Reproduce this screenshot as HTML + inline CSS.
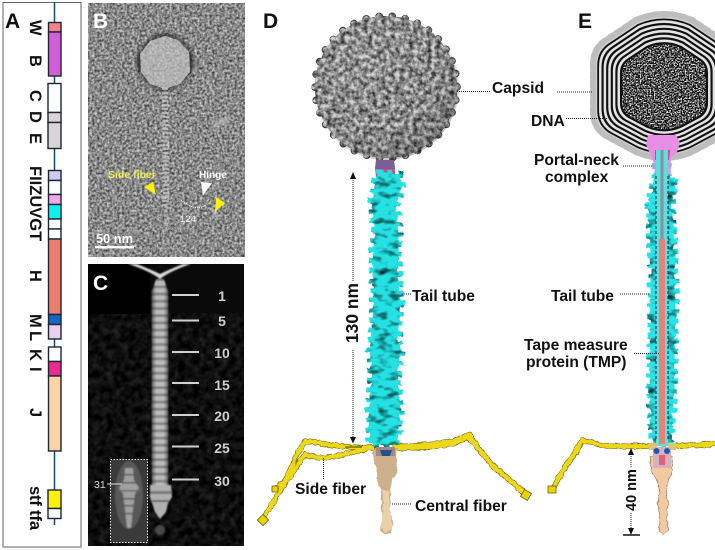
<!DOCTYPE html>
<html><head><meta charset="utf-8"><style>
html,body{margin:0;padding:0;background:#fff;width:715px;height:550px;overflow:hidden}
svg{display:block}
text{font-family:"Liberation Sans",Arial,sans-serif;font-weight:bold}
.l{font-size:15.6px;fill:#111}
.d{stroke:#222;stroke-width:1;stroke-dasharray:1 1;fill:none}
.c{font-size:14px;fill:#cfcfcf;text-anchor:middle}
</style></head><body>
<svg width="715" height="550" viewBox="0 0 715 550" xmlns="http://www.w3.org/2000/svg">
<defs>
<filter id="em" x="0" y="0" width="1" height="1" color-interpolation-filters="sRGB">
<feTurbulence type="fractalNoise" baseFrequency=".4" numOctaves="2" seed="4"/>
<feColorMatrix values=".95 0 0 0 .06 .95 0 0 0 .06 .95 0 0 0 .06 0 0 0 0 1"/>
</filter>
<filter id="cn" x="0" y="0" width="1" height="1" color-interpolation-filters="sRGB">
<feTurbulence type="fractalNoise" baseFrequency=".14" numOctaves="2" seed="9"/>
<feColorMatrix values=".25 0 0 0 -.07 .25 0 0 0 -.07 .25 0 0 0 -.07 0 0 0 0 1"/>
</filter>
<filter id="cap" x="-10%" y="-10%" width="120%" height="120%" color-interpolation-filters="sRGB">
<feTurbulence type="fractalNoise" baseFrequency=".22" numOctaves="3" seed="3" result="n"/>
<feDisplacementMap in="SourceGraphic" in2="n" scale="2.5" xChannelSelector="R" yChannelSelector="G" result="dis"/>
<feColorMatrix in="n" values="1.5 0 0 0 -.1 1.5 0 0 0 -.1 1.5 0 0 0 -.1 0 0 0 0 1" result="g"/>
<feBlend in="dis" in2="g" mode="multiply" result="m"/>
<feComposite in="m" in2="dis" operator="in"/>
</filter>
<filter id="mot" x="-25%" y="-5%" width="150%" height="110%" color-interpolation-filters="sRGB">
<feTurbulence type="fractalNoise" baseFrequency=".09 .16" numOctaves="2" seed="7" result="n"/>
<feDisplacementMap in="SourceGraphic" in2="n" scale="5" xChannelSelector="G" yChannelSelector="R" result="dis"/>
<feColorMatrix in="n" values="2 0 0 0 -.05 2 0 0 0 -.05 2 0 0 0 -.05 0 0 0 0 1" result="g"/>
<feBlend in="dis" in2="g" mode="multiply" result="m"/>
<feComposite in="m" in2="dis" operator="in"/>
</filter>
<filter id="rough" x="-20%" y="-20%" width="140%" height="140%" color-interpolation-filters="sRGB">
<feTurbulence type="fractalNoise" baseFrequency=".18" numOctaves="2" seed="5" result="n"/>
<feDisplacementMap in="SourceGraphic" in2="n" scale="3.5" xChannelSelector="R" yChannelSelector="G"/>
</filter>
<filter id="speck" x="0" y="0" width="1" height="1" color-interpolation-filters="sRGB">
<feTurbulence type="fractalNoise" baseFrequency=".42" numOctaves="2" seed="11" result="n"/>
<feColorMatrix in="n" values="3.4 0 0 0 -1.4 3.4 0 0 0 -1.4 3.4 0 0 0 -1.4 0 0 0 0 1" result="g"/>
<feComposite in="g" in2="SourceAlpha" operator="in"/>
</filter>
<filter id="soft"><feGaussianBlur stdDeviation=".7"/></filter>
<filter id="soft2"><feGaussianBlur stdDeviation="1.6"/></filter>
<radialGradient id="shade" cx=".36" cy=".32" r=".75">
<stop offset="0" stop-color="#fff" stop-opacity=".1"/><stop offset=".6" stop-color="#888" stop-opacity="0"/><stop offset="1" stop-color="#000" stop-opacity=".3"/>
</radialGradient>
<pattern id="stripe" width="18" height="7.2" patternUnits="userSpaceOnUse" y="281">
<rect width="18" height="7.2" fill="#bcbcbc"/><rect y="4.6" width="18" height="2.6" fill="#808080"/>
</pattern>
<linearGradient id="tube"><stop offset="0" stop-color="#000" stop-opacity=".75"/><stop offset=".3" stop-color="#000" stop-opacity="0"/><stop offset=".7" stop-color="#000" stop-opacity="0"/><stop offset="1" stop-color="#000" stop-opacity=".75"/></linearGradient>
<path id="hex" d="M-28,-68 Q0,-80 28,-68 L58,-48 Q71,-40 71,-24 L71,24 Q71,40 58,48 L28,64 Q0,76 -28,64 L-58,48 Q-71,40 -71,24 L-71,-24 Q-71,-40 -58,-48Z"/>
<clipPath id="cpB"><rect x="88" y="3" width="157" height="254"/></clipPath>
</defs>

<rect width="715" height="550" fill="#fff"/>

<!-- Panel A -->
<rect x="3" y="2.5" width="78" height="544.5" fill="#fff" stroke="#666" stroke-width="1"/>
<line x1="54.5" y1="2" x2="54.5" y2="525" stroke="#0f4c75" stroke-width="1.5"/>
<g stroke="#1c2530" stroke-width="1.4">
<rect x="48.5" y="22.5" width="12.5" height="9.5" fill="#f2828e"/>
<rect x="48.5" y="32" width="12.5" height="44" fill="#d05fd8"/>
<rect x="48" y="83.5" width="13" height="29" fill="#fff"/>
<rect x="48" y="112.5" width="13" height="10" fill="#d6d6d6"/>
<rect x="48" y="122.5" width="13" height="26" fill="#d6d6d6"/>
<rect x="48.5" y="170.5" width="12.5" height="10" fill="#cfcaf0"/>
<rect x="48.5" y="180.5" width="12.5" height="14" fill="#fff"/>
<rect x="48.5" y="194.5" width="12.5" height="10" fill="#f2a6ee"/>
<rect x="48.5" y="204.5" width="12.5" height="14.5" fill="#10eef0"/>
<rect x="48.5" y="219" width="12.5" height="10" fill="#fff"/>
<rect x="48.5" y="229" width="12.5" height="10" fill="#fff"/>
<rect x="48.5" y="239" width="12.5" height="75.5" fill="#e97f6c"/>
<rect x="48.5" y="314.5" width="12.5" height="10" fill="#1668c0"/>
<rect x="48.5" y="324.5" width="12.5" height="14.5" fill="#ead0ec"/>
<rect x="48.5" y="347" width="12.5" height="14.5" fill="#fff"/>
<rect x="48.5" y="361.5" width="12.5" height="14.5" fill="#ea2a8c"/>
<rect x="48.5" y="376" width="12.5" height="75" fill="#fbd3a6"/>
<rect x="48" y="490" width="13" height="18.5" fill="#fff200"/>
<rect x="48" y="508.5" width="13" height="10" fill="#fff"/>
</g>
<text x="5" y="28" font-size="21" fill="#111">A</text>
<g font-size="16.5" fill="#111">
<text transform="translate(30,20) rotate(90)">W</text>
<text transform="translate(30,55) rotate(90)">B</text>
<text transform="translate(30,90) rotate(90)">C</text>
<text transform="translate(30,111) rotate(90)">D</text>
<text transform="translate(30,133) rotate(90)">E</text>
<text transform="translate(30,166) rotate(90)">FIIZUVGT</text>
<text transform="translate(30,270) rotate(90)">H</text>
<text transform="translate(30,314) rotate(90)">M</text>
<text transform="translate(30,331) rotate(90)">L</text>
<text transform="translate(30,349) rotate(90)">K</text>
<text transform="translate(30,367) rotate(90)">I</text>
<text transform="translate(30,408) rotate(90)">J</text>
<text transform="translate(30,486) rotate(90)" textLength="44">stf tfa</text>
</g>

<!-- Panel B -->
<g clip-path="url(#cpB)">
<rect x="88" y="3" width="157" height="254" fill="#888" filter="url(#em)"/>
<ellipse cx="165" cy="62" rx="28" ry="28" fill="#1c1c1c" opacity=".85" filter="url(#soft2)"/>
<ellipse cx="222" cy="122" rx="11" ry="3" fill="#c8c8c8" opacity=".6" transform="rotate(-25 222 122)" filter="url(#soft2)"/>
<polygon points="165,36 178,40 189,52 190,72 180,84 165,89 150,84 141,72 140,54 150,41" fill="#c8c8c8"/>
<polygon points="165,36 178,40 189,52 190,72 180,84 165,89 150,84 141,72 140,54 150,41" fill="#777" opacity=".35" filter="url(#em)"/>
<line x1="165" y1="88" x2="166" y2="205" stroke="#c8c8c8" stroke-width="6" stroke-dasharray="2 2" opacity=".7"/>
<line x1="166" y1="205" x2="166" y2="232" stroke="#c8c8c8" stroke-width="3" stroke-dasharray="3 1.5" opacity=".6"/>
<path d="M156,196 L166,198 M212,208 L218,220 M206,80 L215,95" stroke="#c8c8c8" stroke-width="2" fill="none" opacity=".6"/>
<path d="M181,200 Q195,212 206,205" stroke="#fff" stroke-width="1" stroke-dasharray="1 1" fill="none"/>
<polygon points="144,187 153,182 156,195" fill="#fff200"/>
<polygon points="201,182 212,183 203,195" fill="#fff"/>
<polygon points="216,197 225,203 215,212" fill="#fff200"/>
<text x="108" y="178" font-size="10.5" fill="#f6ee60">Side fiber</text>
<text x="199" y="178" font-size="10" fill="#fff">Hinge</text>
<text x="180" y="222" font-size="9.6" fill="#fff" style="font-weight:normal">124</text>
<text x="96" y="243" font-size="12.8" fill="#fff">50 nm</text>
<rect x="95" y="246" width="39" height="2.400" fill="#fff"/>
<text x="93" y="28" font-size="21" fill="#fff">B</text>
</g>

<!-- Panel C -->
<rect x="88" y="264" width="156" height="282" fill="#0a0a0a"/>
<rect x="88" y="313" width="156" height="233" fill="#111" filter="url(#cn)"/>
<rect x="88" y="264" width="62" height="50" fill="#000"/>
<g filter="url(#soft)">
<path d="M128,264 Q150,271 160,279 Q170,271 191,264 L183,264 Q168,270 160,274 Q152,270 137,264Z" fill="#d8d8d8"/>
<path d="M156,279 L164,279 L168,292 L168,490 L152,490 L152,292Z" fill="url(#stripe)"/>
<rect x="151" y="285" width="18" height="205" fill="url(#tube)" opacity=".7"/>
<path d="M150,485 L171,485 L172,497 L168,503 L166,512 L160,519 L155,512 L152,503 L150,497Z" fill="#b0b0b0"/>
<rect x="150" y="491" width="22" height="3" fill="#777"/>
<rect x="152" y="500" width="17" height="2" fill="#666"/>
<ellipse cx="160" cy="530" rx="5" ry="5" fill="#4a4a4a"/>
</g>
<rect x="172" y="294" width="27" height="2" fill="#d0d0d0"/>
<rect x="172" y="319.500" width="27" height="2" fill="#d0d0d0"/>
<rect x="172" y="351" width="27" height="2" fill="#d0d0d0"/>
<rect x="172" y="382" width="27" height="2" fill="#d0d0d0"/>
<rect x="172" y="414" width="27" height="2" fill="#d0d0d0"/>
<rect x="172" y="445.500" width="27" height="2" fill="#d0d0d0"/>
<rect x="172" y="478.500" width="27" height="2" fill="#d0d0d0"/>
<text class="c" x="222" y="301">1</text>
<text class="c" x="222" y="326">5</text>
<text class="c" x="222" y="358">10</text>
<text class="c" x="222" y="390">15</text>
<text class="c" x="222" y="421">20</text>
<text class="c" x="222" y="453">25</text>
<text class="c" x="222" y="486">30</text>
<rect x="110.500" y="459.500" width="37" height="83" fill="#3a3a3a"/>
<g filter="url(#soft)">
<ellipse cx="129" cy="495" rx="14" ry="34" fill="#666" opacity=".7"/>
<path d="M125,468 L133,468 L134,480 L139,488 L135,494 L133,510 L131,528 L127,528 L125,510 L123,494 L119,488 L124,480Z" fill="#a0a0a0"/>
<rect x="120" y="474" width="18" height="1.500" fill="#555"/><rect x="120" y="482" width="18" height="1.500" fill="#555"/>
<rect x="118" y="490" width="22" height="1.500" fill="#666"/><rect x="120" y="498" width="18" height="1.500" fill="#555"/>
<rect x="121" y="505" width="16" height="1.500" fill="#555"/><rect x="122" y="513" width="14" height="1.500" fill="#555"/>
</g>
<rect x="110.500" y="459.500" width="37" height="83" fill="none" stroke="#fff" stroke-width="1" stroke-dasharray="1.500 1.500"/>
<line x1="107" y1="484" x2="122" y2="484" stroke="#ddd" stroke-width="1"/>
<text x="94" y="488" font-size="10.500" fill="#ddd" style="font-weight:normal">31</text>
<text x="93" y="290" font-size="21" fill="#fff">C</text>

<!-- Panel D -->
<text x="263" y="28" font-size="21" fill="#111">D</text>
<circle cx="386" cy="87" r="71" fill="#333" stroke="#333" stroke-width="7.500" stroke-dasharray=".1 13" stroke-linecap="round"/>
<g filter="url(#cap)">
<circle cx="386" cy="87" r="71" fill="#d4d4d4" stroke="#d4d4d4" stroke-width="6" stroke-dasharray=".1 13" stroke-linecap="round"/>
</g>
<circle cx="386" cy="87" r="73" fill="url(#shade)"/>
<path d="M376,160 L394,160 L395,168 L394,177 L376,177 L375,168Z" fill="#7a5f90"/>
<rect x="376" y="169" width="19" height="8" fill="#c8528e"/>
<g filter="url(#mot)">
<polygon points="378,174 399,174 402,187 396,205 399,235 398,260 399,290 401,303 398,340 401,350 397,377 401,410 397,440 392,444 370,444 369,410 371,377 370,350 373,320 374,290 372,260 375,230 371,200 377,176" fill="#24e2e4" stroke="#24e2e4" stroke-width="8" stroke-dasharray="5 5"/>
</g>
<line x1="353" y1="180" x2="353" y2="281" class="d" stroke-width="1.200"/>
<line x1="353" y1="350" x2="353" y2="438" class="d"/>
<polygon points="353,172 350,179 356,179" fill="#111"/>
<polygon points="353,443.500 350,437 356,437" fill="#111"/>
<text transform="translate(358,343) rotate(-90)" font-size="17.400" fill="#111">130 nm</text>

<!-- D fibers -->
<g fill="none" stroke-linejoin="round" stroke-linecap="round" filter="url(#rough)">
<g stroke="#5a5000">
<path d="M262,520 L285,483 L298,452 L306,441 L315,442 Q335,447 372,448" stroke-width="5.500"/>
<path d="M274,489 L290,477 L305,454 Q315,459 330,457 Q350,454 372,447" stroke-width="5"/>
<path d="M395,448 Q430,448 455,443 L467,436 L478,448 L492,465 L526,494" stroke-width="5.500"/>
<path d="M395,446 Q430,446 455,440 L470,434 L480,450" stroke-width="4.500"/>
</g>
<g stroke="#ecd818">
<path d="M262,520 L285,483 L298,452 L306,441 L315,442 Q335,447 372,448" stroke-width="4.500"/>
<path d="M274,489 L290,477 L305,454 Q315,459 330,457 Q350,454 372,447" stroke-width="4"/>
<path d="M395,448 Q430,448 455,443 L467,436 L478,448 L492,465 L526,494" stroke-width="4.500"/>
<path d="M395,446 Q430,446 455,440 L470,434 L480,450" stroke-width="3.500"/>
</g>
</g>
<g fill="#e8d200" stroke="#5a5000" stroke-width=".7"><rect x="259" y="516" width="8" height="8" transform="rotate(45 263 520)"/><rect x="522" y="491" width="8" height="8" transform="rotate(30 526 495)"/><rect x="272" y="486" width="6" height="6"/></g>
<path d="M345,447 L362,447" stroke="#443d00" stroke-width="1" fill="none"/>
<g filter="url(#rough)">
<path d="M372,449 L397,449 L396,458 L398,470 L393,479 L390,490 L391,505 L389,510 L393,522 L391,533 L385,535 L380,530 L382,520 L381,505 L381,490 L377,479 L376,468 L373,458Z" fill="#cdb08c"/>
<path d="M383,490 L389,490 L390,510 L392,528 L385,533 L381,528 L383,510Z" fill="#e8d0aa"/>
</g>
<path d="M376,447 L395,447 L395,456 L376,456Z" fill="#a08a80"/>
<path d="M380,450 L392,450 L390,456 L382,456Z" fill="#274f90"/>

<!-- D labels -->
<text class="l" x="492" y="93">Capsid</text>
<line class="d" x1="457" y1="91.500" x2="491" y2="91.500"/>
<text class="l" x="412" y="301">Tail tube</text>
<line class="d" x1="402" y1="294" x2="411" y2="294"/>
<text class="l" x="295" y="494">Side fiber</text>
<line class="d" x1="323.500" y1="458" x2="323.500" y2="479"/>
<text class="l" x="415" y="511">Central fiber</text>
<line class="d" x1="392" y1="504" x2="412" y2="504"/>

<!-- Panel E -->
<text x="578" y="28" font-size="21" fill="#111">E</text>
<g transform="translate(664,88)">
<use href="#hex" fill="#d0d0d0" stroke="#bdbdbd" stroke-width="6" stroke-dasharray="6 3" stroke-linecap="round"/>
<use href="#hex" fill="#111" transform="scale(.94)"/>
<use href="#hex" fill="#e4e4e4" transform="scale(.915)"/>
<use href="#hex" fill="#111" transform="scale(.88)"/>
<use href="#hex" fill="#e4e4e4" transform="scale(.85)"/>
<use href="#hex" fill="#111" transform="scale(.815)"/>
<use href="#hex" fill="#e4e4e4" transform="scale(.785)"/>
<use href="#hex" fill="#111" transform="scale(.75)"/>
<use href="#hex" fill="#e4e4e4" transform="scale(.72)"/>
<use href="#hex" fill="#111" transform="scale(.685)"/>
<use href="#hex" fill="#e4e4e4" transform="scale(.655)"/>
<use href="#hex" fill="#111" transform="scale(.62)"/>
<use href="#hex" fill="#444" filter="url(#speck)" transform="scale(.59)"/>
</g>
<path d="M648,135 L676,135 L680,143 L677,152 L671,158 L670,168 L672,176 L654,176 L655,166 L652,158 L650,154 L646,144Z" fill="#e88ee4"/>
<path d="M655,150 L670,150 L669,160 L655,160Z" fill="#c64a88"/>
<path d="M652,163 L672,163 L671,169 L652,169Z" fill="#a8a8d8"/>
<g filter="url(#mot)">
<polygon points="656,176 675,178 672,205 674,240 676,295 675,350 674,400 671,437 668,446 654,446 652,437 649,387 650,337 651,270 650,240 648,205 654,178" fill="#28e4e8" stroke="#28e4e8" stroke-width="7" stroke-dasharray="5 5"/>
</g>
<rect x="656" y="150" width="12" height="296" fill="#5fdde0"/>
<line x1="656" y1="176" x2="656" y2="441" stroke="#222" stroke-width="1" stroke-dasharray="3 2"/>
<line x1="668" y1="176" x2="668" y2="441" stroke="#222" stroke-width="1" stroke-dasharray="3 2"/>
<rect x="660.500" y="150" width="3" height="90" fill="#8a9094"/>
<rect x="659" y="239" width="6" height="205" fill="#ef7f70"/>
<!-- E fibers -->
<g fill="none" stroke-linejoin="round" stroke-linecap="round" filter="url(#rough)">
<g stroke="#5a5000">
<path d="M552,490 L566,465 L576,452 L582,440 L590,442 L600,445 Q620,447 648,446" stroke-width="5.500"/>
<path d="M676,446 Q695,445 716,444" stroke-width="5.500"/>
</g>
<g stroke="#ecd818">
<path d="M552,490 L566,465 L576,452 L582,440 L590,442 L600,445 Q620,447 648,446" stroke-width="4.500"/>
<path d="M676,446 Q695,445 716,444" stroke-width="4.500"/>
</g>
</g>
<rect x="548" y="486" width="8" height="7" fill="#e8d200" stroke="#5a5000" stroke-width=".7"/>
<rect x="649" y="443" width="8" height="7" fill="#d8c870"/><rect x="668" y="443" width="8" height="7" fill="#d8c870"/>
<g filter="url(#rough)">
<path d="M650,456 L672,456 L673,470 L668,480 L666,490 L668,503 L667,520 L668,530 L663,534 L659,530 L660,520 L658,503 L660,490 L657,480 L651,470Z" fill="#f2c9a0" stroke="#6b5a45" stroke-width=".5"/>
</g>
<path d="M653,447 L671,447 L671,468 L653,468Z" fill="#d8b0c0"/>
<circle cx="656.500" cy="451" r="3" fill="#1f58b0"/><circle cx="667" cy="451" r="3" fill="#1f58b0"/>
<rect x="659" y="455" width="6" height="10" fill="#e25f78"/>

<!-- E labels -->
<line class="d" x1="557" y1="92" x2="593" y2="92"/>
<text class="l" x="531" y="126">DNA</text>
<line class="d" x1="566" y1="118.500" x2="608" y2="118.500"/>
<text class="l" x="534" y="165">Portal-neck</text>
<text class="l" x="545" y="182">complex</text>
<line class="d" x1="623" y1="166" x2="653" y2="166"/>
<text class="l" x="551" y="301">Tail tube</text>
<line class="d" x1="620" y1="294" x2="650" y2="294"/>
<text class="l" x="524" y="350">Tape measure</text>
<text class="l" x="526" y="367">protein (TMP)</text>
<line class="d" x1="634" y1="353.500" x2="660" y2="353.500"/>
<line class="d" x1="631" y1="456" x2="631" y2="467"/>
<line class="d" x1="631" y1="513" x2="631" y2="528"/>
<polygon points="631,448 628,455 634,455" fill="#111"/>
<polygon points="631,535 628,528 634,528" fill="#111"/>
<line x1="623" y1="535" x2="640" y2="535" stroke="#111" stroke-width="1.500"/>
<text transform="translate(636,511) rotate(-90)" font-size="14.500" fill="#111">40 nm</text>
</svg>
</body></html>
